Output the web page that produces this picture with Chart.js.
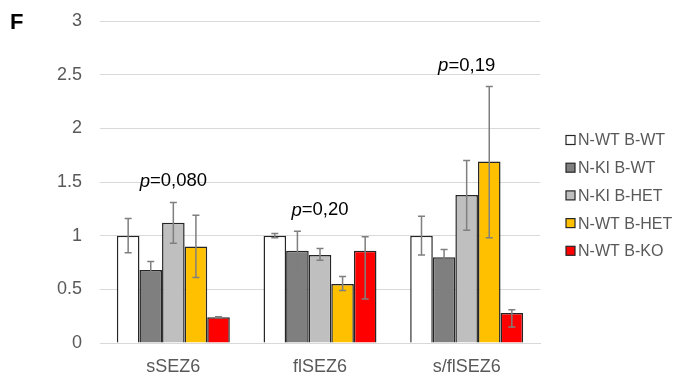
<!DOCTYPE html>
<html>
<head>
<meta charset="utf-8">
<script src="https://cdn.jsdelivr.net/npm/chart.js@4.4.0/dist/chart.umd.min.js"></script>
<style>
  html, body { margin: 0; padding: 0; background: #fff; }
  #wrap { width: 678px; height: 382px; position: relative; }
</style>
</head>
<body>
<div id="wrap"><canvas id="myChart"></canvas></div>
<script>
// categories and series
var categories = ['sSEZ6', 'flSEZ6', 's/flSEZ6'];
var seriesNames = ['N-WT B-WT', 'N-KI B-WT', 'N-KI B-HET', 'N-WT B-HET', 'N-WT B-KO'];
var seriesColors = ['#ffffff', '#7f7f7f', '#bfbfbf', '#ffc000', '#ff0000'];

var wtWt  = [1.00, 1.00, 1.00];
var kiWt  = [0.68, 0.86, 0.80];
var kiHet = [1.12, 0.82, 1.38];
var wtHet = [0.90, 0.55, 1.69];
var wtKo  = [0.24, 0.86, 0.28];

// error bar low / high ends
var wtWtLo  = [0.84, 0.98, 0.82],  wtWtHi  = [1.16, 1.02, 1.18];
var kiWtLo  = [0.61, 0.69, 0.73],  kiWtHi  = [0.76, 1.04, 0.87];
var kiHetLo = [0.93, 0.77, 1.05],  kiHetHi = [1.31, 0.88, 1.70];
var wtHetLo = [0.61, 0.49, 0.98],  wtHetHi = [1.19, 0.62, 2.39];
var wtKoLo  = [0.235, 0.41, 0.15], wtKoHi  = [0.245, 0.99, 0.31];

var pValues = ['0,080', '0,20', '0,19'];

var yTicks = [0, 0.5, 1, 1.5, 2, 2.5, 3];

var values = [wtWt, kiWt, kiHet, wtHet, wtKo];
var lows = [wtWtLo, kiWtLo, kiHetLo, wtHetLo, wtKoLo];
var highs = [wtWtHi, kiWtHi, kiHetHi, wtHetHi, wtKoHi];

var FONT = '"Liberation Sans", Arial, sans-serif';

var datasets = seriesNames.map(function(name, i){
  return {
    label: name,
    data: values[i],
    backgroundColor: seriesColors[i],
    borderColor: '#262626',
    borderWidth: 1.5,
    errLo: lows[i],
    errHi: highs[i]
  };
});

var errorBars = {
  id: 'errorBars',
  afterDatasetsDraw: function(chart){
    var ctx = chart.ctx, y = chart.scales.y;
    ctx.save();
    ctx.strokeStyle = '#7f7f7f';
    ctx.lineWidth = 1.5;
    chart.data.datasets.forEach(function(ds, i){
      var meta = chart.getDatasetMeta(i);
      meta.data.forEach(function(bar, j){
        var x = bar.x;
        var yl = y.getPixelForValue(ds.errLo[j]);
        var yh = y.getPixelForValue(ds.errHi[j]);
        ctx.beginPath();
        ctx.moveTo(x, yl); ctx.lineTo(x, yh);
        ctx.moveTo(x - 3.5, yl); ctx.lineTo(x + 3.5, yl);
        ctx.moveTo(x - 3.5, yh); ctx.lineTo(x + 3.5, yh);
        ctx.stroke();
      });
    });
    ctx.restore();
  }
};

var pLabels = {
  id: 'pLabels',
  afterDraw: function(chart){
    var ctx = chart.ctx, xs = chart.scales.x, ys = chart.scales.y;
    ctx.save();
    ctx.fillStyle = '#000';
    ctx.textBaseline = 'middle';
    categories.forEach(function(c, j){
      var top = Math.max.apply(null, highs.map(function(h){ return h[j]; }));
      var cy = ys.getPixelForValue(top) - 21;
      ctx.font = 'italic 18.5px ' + FONT;
      var pw = ctx.measureText('p').width;
      ctx.font = '18.5px ' + FONT;
      var rest = '=' + pValues[j];
      var rw = ctx.measureText(rest).width;
      var x0 = xs.getPixelForValue(j) - (pw + rw) / 2;
      ctx.font = 'italic 18.5px ' + FONT;
      ctx.textAlign = 'left';
      ctx.fillText('p', x0, cy);
      ctx.font = '18.5px ' + FONT;
      ctx.fillText(rest, x0 + pw, cy);
    });
    // panel letter
    ctx.font = 'bold 22px ' + FONT;
    ctx.fillText('F', 10, 23);
    ctx.restore();
  }
};

// legend on the right, drawn from the datasets
var sideLegend = {
  id: 'sideLegend',
  afterDraw: function(chart){
    var ctx = chart.ctx;
    ctx.save();
    ctx.font = '16px ' + FONT;
    ctx.textBaseline = 'middle';
    ctx.textAlign = 'left';
    chart.data.datasets.forEach(function(ds, i){
      var cy = 140 + i * 27.7;
      ctx.fillStyle = ds.backgroundColor;
      ctx.fillRect(566, cy - 4.5, 9, 9);
      ctx.strokeStyle = '#262626';
      ctx.lineWidth = 1.2;
      ctx.strokeRect(566, cy - 4.5, 9, 9);
      ctx.fillStyle = '#595959';
      ctx.fillText(ds.label, 578, cy + 1);
    });
    ctx.restore();
  }
};

var ctx = document.getElementById('myChart').getContext('2d');
var chart = new Chart(ctx, {
  type: 'bar',
  data: { labels: categories, datasets: datasets },
  options: {
    responsive: true,
    maintainAspectRatio: false,
    animation: false,
    layout: { padding: { left: 40, right: 138, top: 21, bottom: 5 } },
    plugins: {
      legend: { display: false },
      tooltip: { enabled: false }
    },
    datasets: { bar: { categoryPercentage: 0.77, barPercentage: 1 } },
    scales: {
      x: {
        grid: { display: false, drawTicks: false },
        border: { color: '#d9d9d9', width: 1 },
        afterFit: function(axis){ axis.height = 34; },
        ticks: { color: '#595959', padding: 13, font: { family: FONT, size: 18 } }
      },
      y: {
        min: 0,
        max: 3,
        afterBuildTicks: function(axis){
          axis.ticks = yTicks.map(function(v){ return { value: v }; });
        },
        afterFit: function(axis){
          axis.width = 60;
          axis.paddingTop = 0;
          axis.paddingBottom = 0;
        },
        grid: { color: '#d9d9d9', drawTicks: false },
        border: { display: false },
        ticks: {
          color: '#595959', padding: 18, font: { family: FONT, size: 18 },
          callback: function(v){ return String(v); }
        }
      }
    }
  },
  plugins: [errorBars, pLabels, sideLegend]
});
</script>
</body>
</html>
